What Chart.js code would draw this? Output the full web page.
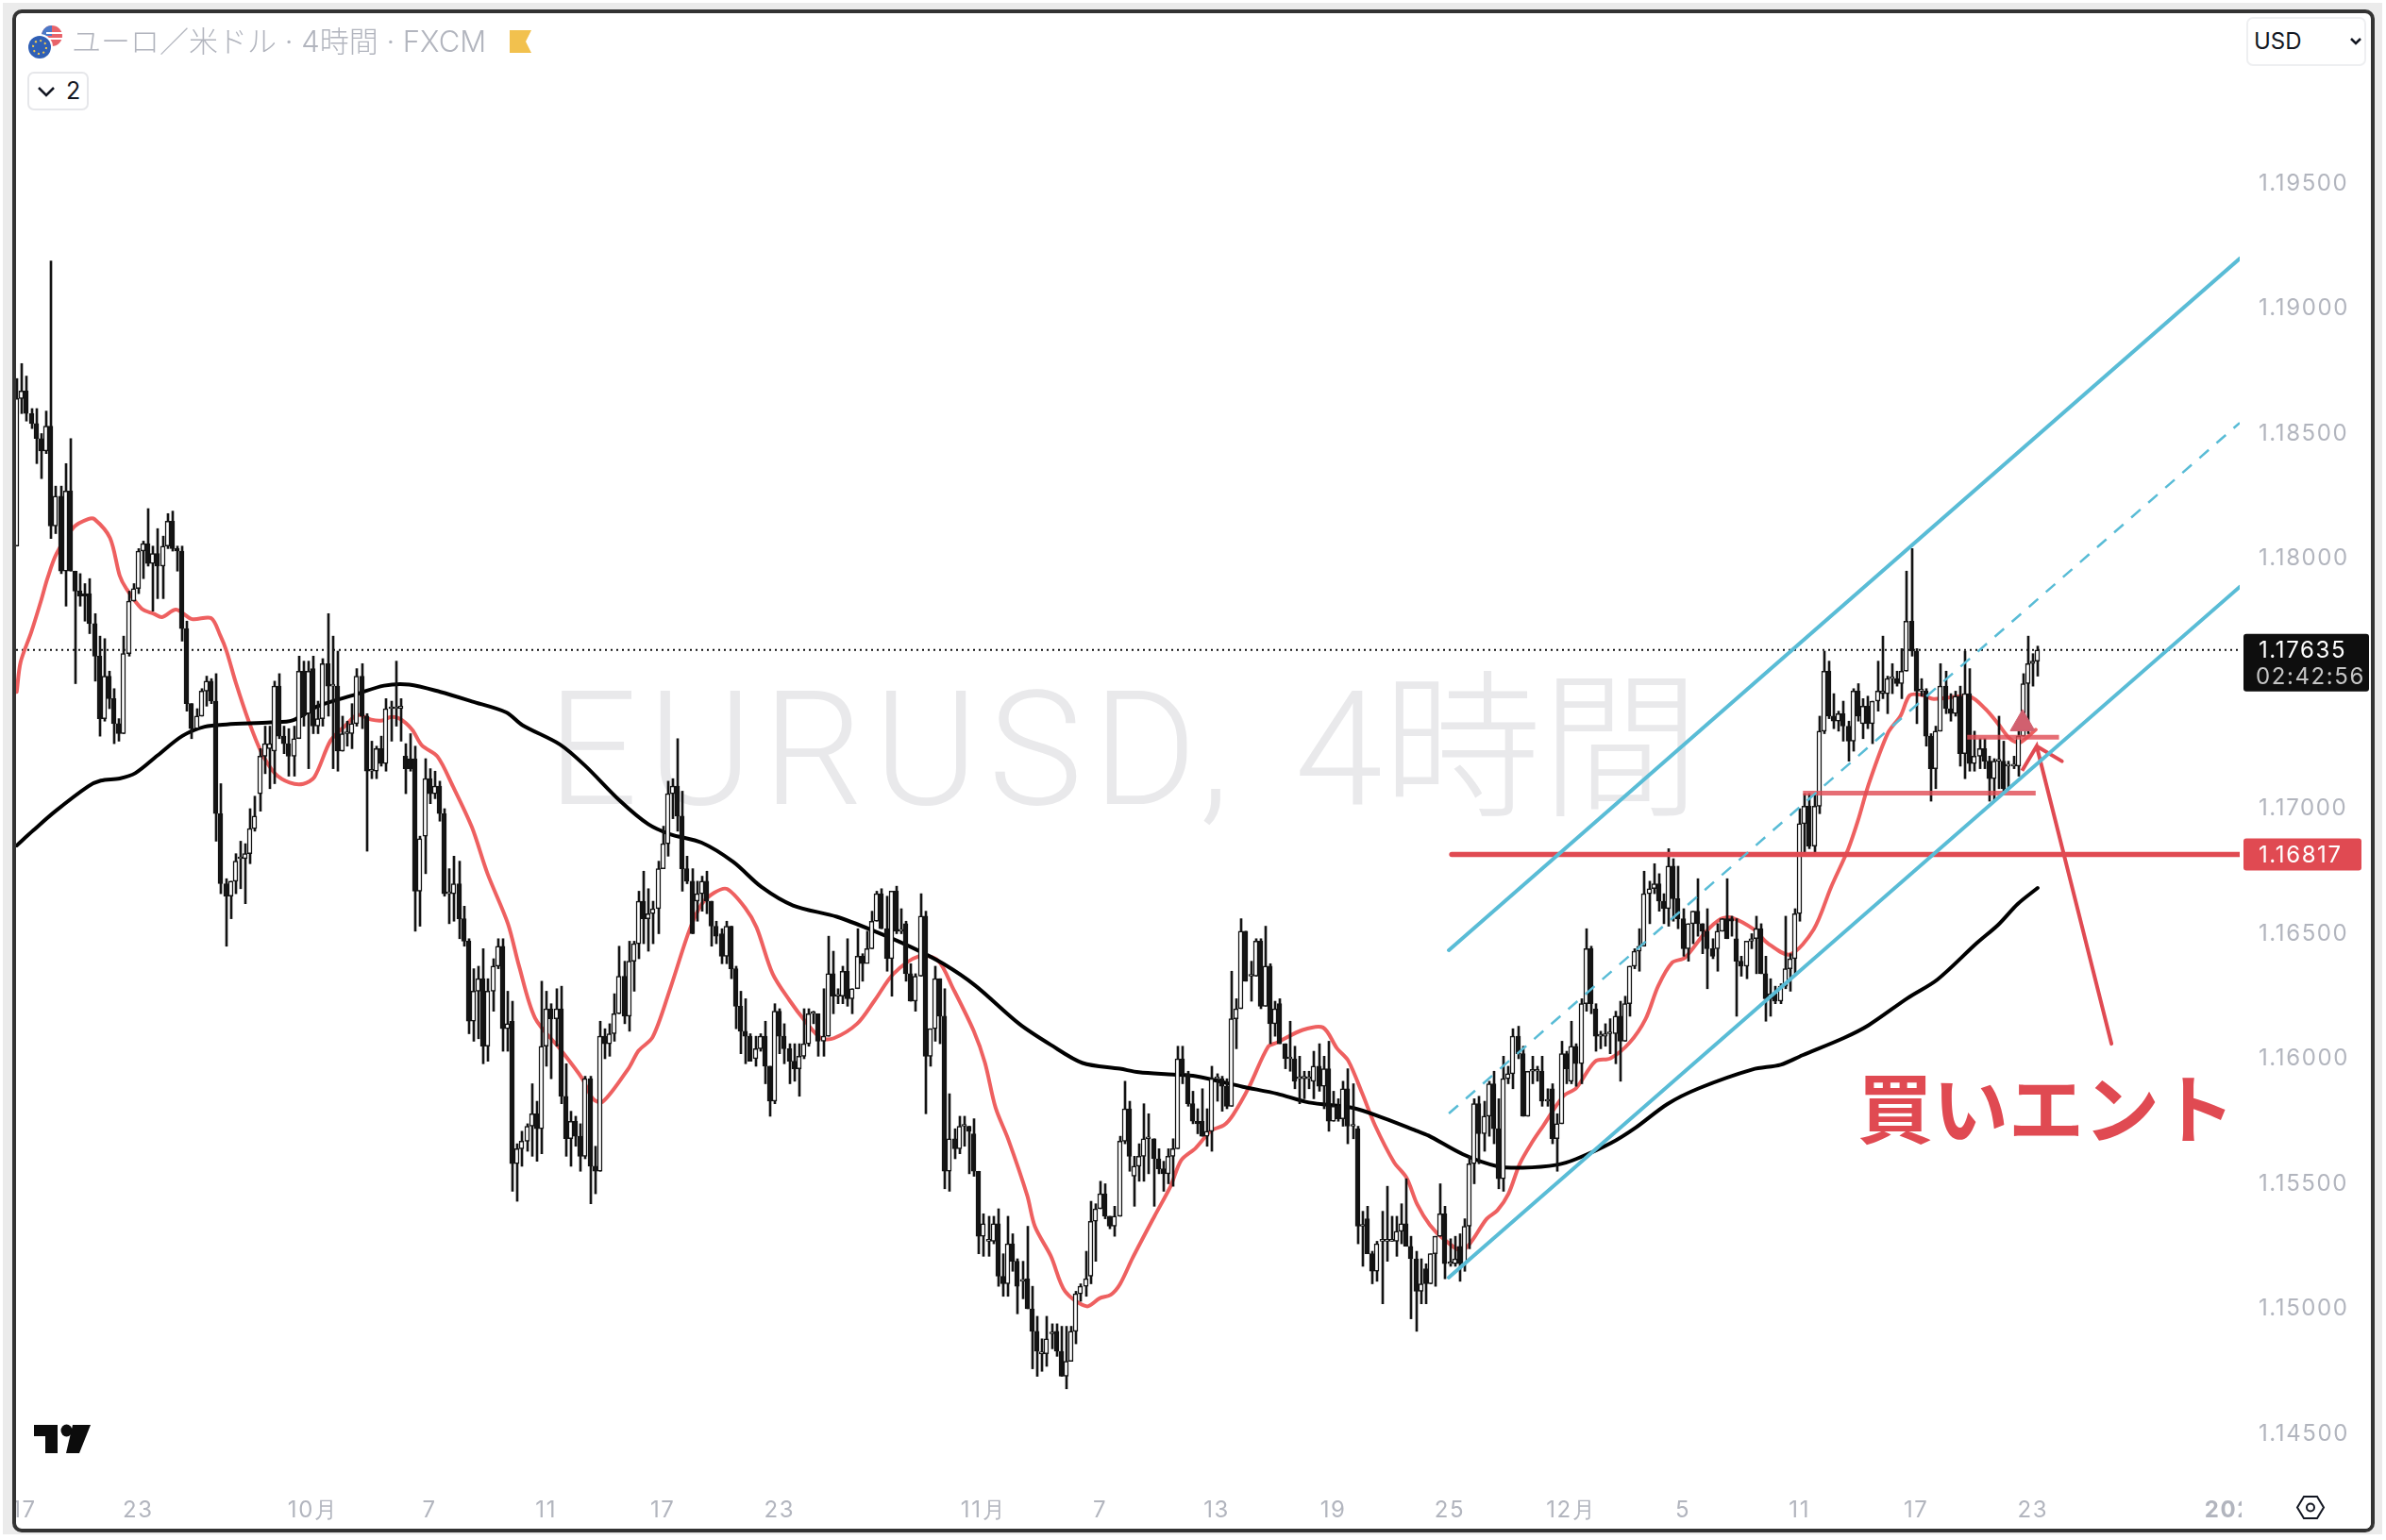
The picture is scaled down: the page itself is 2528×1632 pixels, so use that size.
<!DOCTYPE html>
<html lang="ja">
<head>
<meta charset="utf-8">
<title>EURUSD 4時間</title>
<script src="https://cdn.jsdelivr.net/npm/chart.js@4/dist/chart.umd.min.js"></script>
<style>
  html, body { margin: 0; padding: 0; background: #fff; }
  #page { position: relative; width: 2528px; height: 1632px; overflow: hidden; background: #fff; }
  #backdrop { position: absolute; left: 3px; top: 3px; width: 2521px; height: 1623px; background: #ebebeb; }
  #frame { position: absolute; left: 13px; top: 10px; width: 2503px; height: 1614px; box-sizing: border-box;
           border: 4px solid #333; border-radius: 10px; background: #fff; overflow: hidden; }
  #chart { position: absolute; left: 0; top: 0; }
  #watermark { position: absolute; left: 563px; top: 697px; font: 300 168px Roboto, "Noto Sans CJK JP"; color: #e9e9eb; white-space: nowrap; line-height: 1; }
  #watermark span { letter-spacing: 11px; margin-right: 58px; }
  #title { position: absolute; left: 76px; top: 25px; font: 300 31px Inter, "Noto Sans CJK JP"; color: #b2b5be; white-space: nowrap; line-height: 38px; }
  .btn { position: absolute; box-sizing: border-box; border: 2px solid #e6e7ea; border-radius: 7px; background: #fff; color: #131722; font: 25px Inter, Roboto; }
  #count { left: 29px; top: 76px; width: 65px; height: 41px; line-height: 37px; padding-left: 39px; }
  #usd { left: 2380px; top: 18px; width: 127px; height: 52px; line-height: 48px; padding-left: 6px; border-color: #eeeff1; font-size: 24px; }
  #entry { position: absolute; left: 1968px; top: 1120px; font: 700 80px "Noto Sans CJK JP"; color: #e04a52; white-space: nowrap; line-height: 100px; }
  #icons { position: absolute; left: 0; top: 0; }
</style>
</head>
<body>
<div id="page">
  <div id="backdrop"></div>
  <div id="frame">
    <div id="watermark"><span>EURUSD,</span>4時間</div>
    <canvas id="chart" width="2495" height="1606"></canvas>
  </div>
  <div id="title">ユーロ／米ドル · 4時間 · FXCM</div>
  <div class="btn" id="count">2</div>
  <div class="btn" id="usd">USD</div>
  <div id="entry">買いエント</div>
  <svg id="icons" width="2528" height="1632">
    <circle cx="55" cy="38" r="11" fill="#e8636a"/>
    <path d="M44 38a11 11 0 0 1 11-11v11z" fill="#4a78c8"/>
    <path d="M47 41h19M49 35h17" stroke="#fff" stroke-width="2"/>
    <circle cx="42" cy="50" r="14" fill="#fff"/>
    <circle cx="42" cy="50" r="12" fill="#2f5fb5"/>
    <circle cx="42" cy="50" r="7" fill="none" stroke="#f2c94c" stroke-width="2" stroke-dasharray="2 3.5"/>
    <path d="M540 32h23l-6 12 6 12h-23z" fill="#f2c14e"/>
    <path d="M41 93l8 8 8-8" fill="none" stroke="#131722" stroke-width="2.5"/>
    <path d="M2491 41l5 5 5-5" fill="none" stroke="#131722" stroke-width="2.5"/>
    <path d="M36 1510h25v30h-13v-18h-12z" fill="#0c0c0c"/>
    <ellipse cx="70.5" cy="1516" rx="6" ry="6.5" fill="#0c0c0c"/>
    <path d="M77 1510h19l-12 30h-14z" fill="#0c0c0c"/>
    <path d="M2441 1586h14l7 11.5-7 11.5h-14l-7-11.5z" fill="none" stroke="#131722" stroke-width="2"/>
    <circle cx="2448" cy="1597.5" r="4" fill="none" stroke="#131722" stroke-width="2"/>
  </svg>
</div>
<script>
const opens = [
1.1805,1.1864,1.1867,1.1858,1.1854,1.1848,1.1843,1.1853,1.1813,1.1825,1.1795,1.1827,1.1795,1.1787,1.1786,1.1786,1.1774,1.1761,1.1736,1.1753,
1.1744,1.1734,1.1730,1.1762,1.1783,1.1788,1.1803,1.1806,1.1798,1.1802,1.1797,1.1805,1.1815,1.1804,1.1803,1.1772,1.1742,1.1732,1.1737,1.1747,
1.1751,1.1743,1.1698,1.1670,1.1665,1.1671,1.1680,1.1680,1.1682,1.1692,1.1706,1.1721,1.1724,1.1723,1.1749,1.1729,1.1726,1.1721,1.1728,1.1755,
1.1738,1.1756,1.1733,1.1736,1.1758,1.1749,1.1749,1.1723,1.1730,1.1730,1.1734,1.1753,1.1737,1.1715,1.1715,1.1724,1.1718,1.1740,1.1740,1.1740,
1.1721,1.1720,1.1720,1.1667,1.1689,1.1712,1.1706,1.1709,1.1698,1.1666,1.1666,1.1670,1.1656,1.1647,1.1615,1.1627,1.1632,1.1605,1.1627,1.1637,
1.1645,1.1612,1.1615,1.1558,1.1564,1.1567,1.1573,1.1578,1.1572,1.1605,1.1620,1.1616,1.1620,1.1585,1.1568,1.1575,1.1569,1.1561,1.1592,1.1557,
1.1555,1.1609,1.1606,1.1610,1.1618,1.1633,1.1617,1.1639,1.1646,1.1663,1.1656,1.1658,1.1660,1.1676,1.1686,1.1706,1.1709,1.1697,1.1676,1.1671,
1.1663,1.1666,1.1671,1.1663,1.1653,1.1650,1.1641,1.1653,1.1636,1.1621,1.1611,1.1609,1.1600,1.1604,1.1609,1.1597,1.1583,1.1619,1.1609,1.1604,
1.1599,1.1596,1.1601,1.1606,1.1618,1.1618,1.1607,1.1609,1.1634,1.1625,1.1625,1.1635,1.1624,1.1628,1.1641,1.1638,1.1644,1.1655,1.1666,1.1652,
1.1640,1.1667,1.1651,1.1654,1.1634,1.1623,1.1633,1.1657,1.1601,1.1612,1.1632,1.1617,1.1555,1.1568,1.1564,1.1573,1.1573,1.1570,1.1555,1.1529,
1.1527,1.1527,1.1534,1.1513,1.1510,1.1526,1.1519,1.1511,1.1512,1.1500,1.1491,1.1482,1.1482,1.1490,1.1491,1.1483,1.1473,1.1479,1.1491,1.1506,
1.1509,1.1513,1.1535,1.1540,1.1546,1.1537,1.1533,1.1537,1.1567,1.1580,1.1553,1.1557,1.1561,1.1568,1.1568,1.1560,1.1556,1.1554,1.1561,1.1564,
1.1600,1.1594,1.1582,1.1575,1.1575,1.1569,1.1571,1.1592,1.1592,1.1589,1.1581,1.1616,1.1620,1.1651,1.1633,1.1633,1.1647,1.1621,1.1637,1.1614,
1.1622,1.1606,1.1600,1.1600,1.1592,1.1592,1.1592,1.1591,1.1597,1.1589,1.1596,1.1575,1.1581,1.1576,1.1588,1.1573,1.1572,1.1533,1.1536,1.1522,
1.1515,1.1527,1.1527,1.1527,1.1527,1.1531,1.1534,1.1525,1.1520,1.1507,1.1516,1.1510,1.1522,1.1529,1.1538,1.1518,1.1518,1.1525,1.1518,1.1533,
1.1558,1.1582,1.1570,1.1577,1.1590,1.1572,1.1552,1.1592,1.1594,1.1609,1.1602,1.1577,1.1595,1.1595,1.1595,1.1583,1.1588,1.1568,1.1574,1.1602,
1.1591,1.1605,1.1598,1.1622,1.1644,1.1620,1.1609,1.1609,1.1610,1.1610,1.1617,1.1607,1.1622,1.1637,1.1643,1.1645,1.1666,1.1668,1.1670,1.1663,
1.1660,1.1677,1.1664,1.1656,1.1644,1.1654,1.1659,1.1654,1.1651,1.1644,1.1644,1.1651,1.1656,1.1656,1.1648,1.1639,1.1637,1.1647,1.1648,1.1652,
1.1634,1.1624,1.1626,1.1623,1.1629,1.1636,1.1640,1.1658,1.1694,1.1701,1.1685,1.1701,1.1731,1.1755,1.1737,1.1735,1.1738,1.1733,1.1727,1.1747,
1.1734,1.1741,1.1734,1.1743,1.1746,1.1746,1.1752,1.1752,1.1750,1.1755,1.1775,1.1763,1.1747,1.1747,1.1729,1.1716,1.1731,1.1749,1.1740,1.1738,
1.1745,1.1722,1.1746,1.1718,1.1721,1.1724,1.1719,1.1712,1.1719,1.1719,1.1717,1.1717,1.1717,1.1729,1.1750,1.1758,1.1759];
const highs = [
1.1872,1.1878,1.1873,1.1860,1.1860,1.1850,1.1859,1.1919,1.1829,1.1829,1.1838,1.1848,1.1795,1.1794,1.1790,1.1792,1.1778,1.1769,1.1768,1.1755,
1.1748,1.1736,1.1769,1.1787,1.1790,1.1804,1.1807,1.1820,1.1805,1.1812,1.1809,1.1818,1.1819,1.1805,1.1805,1.1775,1.1742,1.1740,1.1748,1.1753,
1.1752,1.1754,1.1710,1.1672,1.1671,1.1682,1.1687,1.1686,1.1700,1.1705,1.1724,1.1733,1.1733,1.1751,1.1754,1.1733,1.1732,1.1733,1.1761,1.1759,
1.1759,1.1761,1.1743,1.1760,1.1778,1.1769,1.1763,1.1737,1.1735,1.1742,1.1756,1.1758,1.1738,1.1727,1.1725,1.1729,1.1744,1.1743,1.1759,1.1744,
1.1726,1.1730,1.1725,1.1689,1.1720,1.1716,1.1715,1.1711,1.1700,1.1676,1.1681,1.1679,1.1661,1.1648,1.1636,1.1637,1.1644,1.1632,1.1640,1.1648,
1.1648,1.1627,1.1623,1.1566,1.1571,1.1574,1.1590,1.1583,1.1631,1.1627,1.1622,1.1628,1.1629,1.1598,1.1579,1.1577,1.1574,1.1593,1.1593,1.1565,
1.1615,1.1612,1.1614,1.1626,1.1645,1.1639,1.1647,1.1647,1.1667,1.1675,1.1668,1.1663,1.1679,1.1693,1.1711,1.1712,1.1728,1.1707,1.1681,1.1676,
1.1671,1.1673,1.1675,1.1663,1.1655,1.1652,1.1655,1.1653,1.1637,1.1627,1.1624,1.1610,1.1609,1.1610,1.1615,1.1597,1.1622,1.1620,1.1614,1.1606,
1.1606,1.1606,1.1620,1.1620,1.1619,1.1618,1.1628,1.1649,1.1643,1.1628,1.1637,1.1648,1.1628,1.1652,1.1642,1.1651,1.1659,1.1667,1.1668,1.1665,
1.1667,1.1669,1.1660,1.1655,1.1638,1.1634,1.1666,1.1659,1.1612,1.1637,1.1632,1.1628,1.1586,1.1572,1.1577,1.1577,1.1573,1.1576,1.1555,1.1538,
1.1537,1.1537,1.1540,1.1522,1.1537,1.1530,1.1520,1.1519,1.1533,1.1509,1.1497,1.1488,1.1497,1.1494,1.1494,1.1493,1.1493,1.1493,1.1507,1.1510,
1.1523,1.1543,1.1542,1.1551,1.1550,1.1537,1.1541,1.1569,1.1591,1.1583,1.1561,1.1566,1.1582,1.1578,1.1568,1.1564,1.1559,1.1564,1.1568,1.1605,
1.1605,1.1595,1.1587,1.1580,1.1588,1.1580,1.1597,1.1594,1.1593,1.1592,1.1635,1.1624,1.1656,1.1651,1.1639,1.1648,1.1648,1.1653,1.1638,1.1623,
1.1624,1.1606,1.1615,1.1605,1.1601,1.1595,1.1595,1.1603,1.1606,1.1601,1.1607,1.1587,1.1584,1.1591,1.1596,1.1590,1.1573,1.1539,1.1541,1.1523,
1.1527,1.1539,1.1549,1.1537,1.1537,1.1542,1.1552,1.1529,1.1523,1.1520,1.1518,1.1522,1.1529,1.1550,1.1541,1.1528,1.1529,1.1530,1.1536,1.1561,
1.1584,1.1585,1.1583,1.1591,1.1595,1.1584,1.1601,1.1597,1.1612,1.1613,1.1605,1.1595,1.1601,1.1597,1.1601,1.1588,1.1590,1.1578,1.1607,1.1603,
1.1615,1.1606,1.1624,1.1652,1.1645,1.1622,1.1611,1.1614,1.1616,1.1619,1.1623,1.1625,1.1637,1.1644,1.1652,1.1675,1.1671,1.1678,1.1674,1.1666,
1.1684,1.1680,1.1677,1.1660,1.1654,1.1659,1.1672,1.1654,1.1660,1.1648,1.1654,1.1656,1.1672,1.1657,1.1656,1.1641,1.1647,1.1650,1.1657,1.1654,
1.1641,1.1632,1.1629,1.1630,1.1657,1.1642,1.1660,1.1700,1.1706,1.1706,1.1706,1.1737,1.1763,1.1759,1.1746,1.1739,1.1743,1.1735,1.1748,1.1750,
1.1744,1.1745,1.1743,1.1759,1.1769,1.1753,1.1758,1.1755,1.1764,1.1795,1.1804,1.1764,1.1752,1.1748,1.1730,1.1733,1.1758,1.1755,1.1746,1.1747,
1.1749,1.1763,1.1756,1.1731,1.1728,1.1728,1.1721,1.1720,1.1737,1.1727,1.1719,1.1721,1.1733,1.1754,1.1769,1.1762,1.1765];
const lows = [
1.1805,1.1858,1.1855,1.1852,1.1838,1.1832,1.1842,1.1808,1.1810,1.1794,1.1781,1.1795,1.1750,1.1781,1.1775,1.1770,1.1751,1.1729,1.1735,1.1740,
1.1726,1.1727,1.1730,1.1761,1.1783,1.1786,1.1792,1.1797,1.1779,1.1784,1.1784,1.1804,1.1803,1.1795,1.1767,1.1739,1.1728,1.1732,1.1737,1.1741,
1.1742,1.1687,1.1666,1.1645,1.1656,1.1666,1.1668,1.1662,1.1678,1.1691,1.1699,1.1714,1.1708,1.1710,1.1728,1.1722,1.1713,1.1713,1.1728,1.1733,
1.1716,1.1730,1.1730,1.1733,1.1737,1.1716,1.1715,1.1723,1.1725,1.1724,1.1733,1.1732,1.1683,1.1712,1.1712,1.1717,1.1715,1.1727,1.1733,1.1727,
1.1706,1.1715,1.1651,1.1653,1.1674,1.1702,1.1704,1.1695,1.1665,1.1654,1.1655,1.1648,1.1645,1.1610,1.1607,1.1608,1.1598,1.1599,1.1619,1.1636,
1.1603,1.1603,1.1547,1.1543,1.1557,1.1563,1.1561,1.1559,1.1562,1.1597,1.1592,1.1605,1.1582,1.1561,1.1557,1.1565,1.1555,1.1560,1.1542,1.1546,
1.1555,1.1600,1.1601,1.1607,1.1618,1.1614,1.1611,1.1627,1.1640,1.1646,1.1643,1.1646,1.1650,1.1676,1.1681,1.1696,1.1691,1.1667,1.1670,1.1650,
1.1655,1.1659,1.1658,1.1645,1.1646,1.1638,1.1638,1.1632,1.1612,1.1602,1.1598,1.1599,1.1597,1.1603,1.1590,1.1577,1.1582,1.1602,1.1598,1.1590,
1.1591,1.1585,1.1600,1.1605,1.1614,1.1601,1.1601,1.1609,1.1618,1.1622,1.1622,1.1621,1.1618,1.1628,1.1631,1.1639,1.1644,1.1655,1.1652,1.1635,
1.1625,1.1650,1.1650,1.1631,1.1623,1.1619,1.1633,1.1578,1.1597,1.1607,1.1606,1.1548,1.1547,1.1560,1.1562,1.1565,1.1554,1.1553,1.1522,1.1521,
1.1521,1.1526,1.1509,1.1505,1.1505,1.1515,1.1498,1.1504,1.1500,1.1476,1.1473,1.1475,1.1477,1.1484,1.1481,1.1473,1.1468,1.1479,1.1486,1.1503,
1.1505,1.1510,1.1519,1.1540,1.1536,1.1532,1.1529,1.1537,1.1566,1.1555,1.1541,1.1551,1.1551,1.1554,1.1541,1.1554,1.1547,1.1550,1.1549,1.1564,
1.1590,1.1581,1.1574,1.1570,1.1569,1.1565,1.1563,1.1583,1.1579,1.1580,1.1581,1.1604,1.1620,1.1631,1.1623,1.1633,1.1620,1.1621,1.1606,1.1609,
1.1606,1.1596,1.1595,1.1588,1.1582,1.1584,1.1588,1.1584,1.1587,1.1580,1.1571,1.1575,1.1575,1.1573,1.1566,1.1568,1.1526,1.1517,1.1522,1.1510,
1.1511,1.1502,1.1519,1.1527,1.1521,1.1526,1.1525,1.1496,1.1491,1.1502,1.1502,1.1510,1.1509,1.1529,1.1512,1.1517,1.1517,1.1511,1.1515,1.1524,
1.1550,1.1558,1.1563,1.1569,1.1566,1.1548,1.1547,1.1590,1.1588,1.1600,1.1577,1.1577,1.1590,1.1591,1.1581,1.1581,1.1566,1.1555,1.1574,1.1590,
1.1590,1.1589,1.1590,1.1619,1.1618,1.1603,1.1604,1.1605,1.1602,1.1598,1.1591,1.1607,1.1617,1.1636,1.1635,1.1645,1.1654,1.1666,1.1659,1.1654,
1.1653,1.1655,1.1652,1.1641,1.1639,1.1646,1.1649,1.1642,1.1628,1.1640,1.1635,1.1651,1.1648,1.1649,1.1617,1.1633,1.1632,1.1644,1.1634,1.1634,
1.1615,1.1617,1.1622,1.1622,1.1628,1.1627,1.1634,1.1655,1.1682,1.1684,1.1682,1.1698,1.1730,1.1736,1.1732,1.1731,1.1727,1.1719,1.1723,1.1735,
1.1728,1.1732,1.1726,1.1739,1.1744,1.1738,1.1746,1.1749,1.1744,1.1755,1.1761,1.1734,1.1745,1.1725,1.1703,1.1708,1.1731,1.1738,1.1735,1.1737,
1.1717,1.1712,1.1715,1.1715,1.1716,1.1716,1.1703,1.1703,1.1708,1.1707,1.1708,1.1716,1.1713,1.1729,1.1730,1.1749,1.1753];
const closes = [
1.1864,1.1867,1.1858,1.1854,1.1848,1.1843,1.1853,1.1813,1.1825,1.1795,1.1827,1.1795,1.1787,1.1785,1.1785,1.1774,1.1761,1.1736,1.1753,1.1744,
1.1734,1.1730,1.1762,1.1783,1.1788,1.1803,1.1806,1.1798,1.1802,1.1797,1.1805,1.1815,1.1804,1.1803,1.1772,1.1742,1.1732,1.1737,1.1747,1.1751,
1.1743,1.1698,1.1670,1.1665,1.1671,1.1679,1.1680,1.1682,1.1692,1.1697,1.1721,1.1726,1.1726,1.1749,1.1729,1.1726,1.1721,1.1728,1.1755,1.1737,
1.1755,1.1733,1.1736,1.1758,1.1749,1.1749,1.1723,1.1730,1.1730,1.1734,1.1753,1.1737,1.1715,1.1715,1.1724,1.1718,1.1740,1.1740,1.1740,1.1741,
1.1716,1.1716,1.1667,1.1688,1.1712,1.1706,1.1709,1.1698,1.1666,1.1666,1.1670,1.1656,1.1647,1.1615,1.1627,1.1632,1.1605,1.1627,1.1637,1.1645,
1.1612,1.1614,1.1558,1.1564,1.1567,1.1573,1.1578,1.1572,1.1605,1.1620,1.1616,1.1620,1.1585,1.1568,1.1575,1.1569,1.1561,1.1592,1.1557,1.1555,
1.1609,1.1606,1.1610,1.1618,1.1633,1.1617,1.1639,1.1646,1.1663,1.1656,1.1658,1.1660,1.1676,1.1686,1.1706,1.1709,1.1697,1.1676,1.1671,1.1650,
1.1666,1.1671,1.1663,1.1653,1.1649,1.1641,1.1653,1.1636,1.1621,1.1611,1.1609,1.1599,1.1604,1.1609,1.1597,1.1583,1.1619,1.1609,1.1604,1.1599,
1.1596,1.1601,1.1606,1.1618,1.1618,1.1607,1.1609,1.1634,1.1625,1.1625,1.1635,1.1624,1.1628,1.1641,1.1638,1.1644,1.1655,1.1666,1.1652,1.1640,
1.1667,1.1651,1.1651,1.1634,1.1623,1.1633,1.1657,1.1601,1.1612,1.1632,1.1617,1.1555,1.1568,1.1564,1.1573,1.1573,1.1571,1.1555,1.1529,1.1534,
1.1527,1.1534,1.1513,1.1510,1.1526,1.1519,1.1509,1.1511,1.1500,1.1491,1.1483,1.1482,1.1488,1.1490,1.1483,1.1473,1.1479,1.1491,1.1506,1.1509,
1.1512,1.1535,1.1540,1.1546,1.1537,1.1533,1.1537,1.1567,1.1580,1.1561,1.1557,1.1561,1.1568,1.1568,1.1560,1.1556,1.1554,1.1561,1.1564,1.1600,
1.1594,1.1582,1.1575,1.1574,1.1569,1.1571,1.1592,1.1592,1.1589,1.1581,1.1616,1.1620,1.1651,1.1631,1.1633,1.1647,1.1621,1.1637,1.1614,1.1620,
1.1606,1.1600,1.1600,1.1591,1.1592,1.1593,1.1592,1.1597,1.1589,1.1596,1.1575,1.1581,1.1576,1.1588,1.1573,1.1573,1.1533,1.1533,1.1522,1.1515,
1.1526,1.1527,1.1527,1.1527,1.1531,1.1534,1.1525,1.1520,1.1507,1.1510,1.1510,1.1522,1.1529,1.1538,1.1518,1.1518,1.1520,1.1518,1.1533,1.1558,
1.1582,1.1570,1.1577,1.1590,1.1572,1.1552,1.1592,1.1594,1.1609,1.1602,1.1577,1.1595,1.1595,1.1595,1.1583,1.1583,1.1568,1.1574,1.1602,1.1596,
1.1605,1.1598,1.1622,1.1644,1.1622,1.1609,1.1609,1.1610,1.1610,1.1617,1.1607,1.1622,1.1637,1.1643,1.1645,1.1666,1.1668,1.1670,1.1663,1.1660,
1.1677,1.1664,1.1656,1.1644,1.1654,1.1659,1.1654,1.1651,1.1644,1.1641,1.1651,1.1656,1.1648,1.1655,1.1639,1.1637,1.1647,1.1648,1.1652,1.1634,
1.1624,1.1626,1.1623,1.1629,1.1636,1.1640,1.1658,1.1694,1.1701,1.1685,1.1701,1.1731,1.1755,1.1737,1.1735,1.1738,1.1733,1.1727,1.1747,1.1737,
1.1741,1.1734,1.1743,1.1747,1.1747,1.1752,1.1752,1.1750,1.1755,1.1775,1.1763,1.1747,1.1747,1.1729,1.1716,1.1731,1.1749,1.1740,1.1738,1.1745,
1.1722,1.1746,1.1718,1.1721,1.1724,1.1719,1.1712,1.1719,1.1719,1.1708,1.1717,1.1717,1.1729,1.1750,1.1758,1.1759,1.17635];

// moving averages, read as knots along each curve
const redMaX = [0,0.8,3,5,6.3,8.2,11.8,14.7,16,19.2,21.2,22.5,25.7,28.3,29.9,32.8,36.1,40,41.9,43.2,45.1,47.7,50.3,53.2,56.2,59,61.3,64.6,67.8,70.1,73,75.3,76.9,78.8,81.4,83.4,86.6,89.8,93.7,
96.9,101.1,103.4,106.7,111.8,116.4,118.6,120.6,126,128,130.9,134.5,138.4,141,143.6,146.2,150,152.3,155.6,159.1,162.4,165.6,168.2,173,176.6,180.5,185.7,189.6,
192.8,197,199.3,201.5,204.1,208,209.6,212.9,215.8,220.3,222.9,225.2,227.1,229.7,234.2,237.5,239.7,242.7,245.9,248.5,250.4,253.7,257.6,259.5,264.7,268.9,271.8,274.1,277,279.6,283.5,286.1,
288.3,290.9,293.8,297.7,302.6,304.8,307.1,309.4,312,314.2,318.4,321,324.9,328.1,332,335.3,337.9,340.8,343.4,347.6,350.8,353.1,357.6,360.5,365,369.9,373.5,377,
379,381.3,385.2,387.8,389.7,392.3,394.6,402,405.3,407.8,410.4,412.4,415.6];
const redMaY = [1.17467,1.17586,1.17706,1.17831,1.17919,1.1802,1.18127,1.18158,1.18158,1.18083,1.17932,1.17882,1.178,1.17779,1.17766,1.17796,1.17758,1.17762,1.17693,1.1763,1.17504,1.17353,1.17228,1.1714,1.17104,1.17099,1.17127,1.17272,1.17335,1.17375,1.17356,1.17353,1.17366,1.1736,1.17316,1.17253,1.17209,1.17089,1.16926,
1.16741,1.16541,1.16371,1.16163,1.1604,1.15921,1.1584,1.15827,1.15963,1.16032,1.16086,1.16279,1.1651,1.16618,1.16664,1.16679,1.16602,1.16525,1.1634,1.16233,1.16148,1.16082,1.16082,1.1614,1.16233,1.1634,1.1641,1.16394,
1.16279,1.16111,1.15985,1.15804,1.15678,1.15454,1.15329,1.1521,1.1507,1.1501,1.15042,1.15056,1.15098,1.15203,1.1537,1.15489,1.15594,1.15643,1.15713,1.15734,1.15776,1.15888,1.16048,1.16065,1.16115,1.16125,1.16041,1.15992,1.1586,1.15734,1.15587,1.15524,
1.15417,1.15335,1.15278,1.15234,1.1536,1.15394,1.15461,1.1558,1.15668,1.15731,1.15851,1.15882,1.15989,1.16002,1.16064,1.16159,1.16291,1.16385,1.16404,1.16505,1.16559,1.16564,1.16517,1.16461,1.16417,1.16517,1.16687,1.16838,
1.16951,1.17102,1.17303,1.17372,1.17454,1.17454,1.17439,1.17448,1.17398,1.17341,1.17278,1.17265,1.17316];
const blackMaX = [0,3.4,7.9,14.7,17.3,21.2,24.4,29,34.1,38.7,43.2,52.3,56.8,62,69.8,75.6,80.8,87.2,93.7,100.8,104.1,111.8,117,124.1,130,134.5,141,147.5,153.3,159.8,168.8,176.6,184.4,190.8,
197.3,206.4,212.9,219.4,227.1,231,238.1,242.7,252.4,259.5,266,275,281.5,288,290.6,297.7,304.8,310,317.1,321,328.1,333.3,339.8,346.3,357.3,363.1,367.6,376.1,381.2,389.2,395.4,403.4,407.9,411.9,416];
const blackMaY = [1.16853,1.16913,1.16989,1.17089,1.17112,1.17121,1.17142,1.17213,1.17291,1.17328,1.17337,1.17345,1.17353,1.1741,1.17457,1.17492,1.17496,1.17467,1.17429,1.17385,1.17334,1.17257,1.17172,1.17033,1.16938,1.16898,1.16864,1.16787,1.16687,1.16613,1.16568,1.1651,1.16444,1.16379,
1.16293,1.16139,1.16055,1.15983,1.1596,1.15946,1.15937,1.1593,1.15888,1.1586,1.15825,1.15804,1.15762,1.15713,1.15693,1.15618,1.1557,1.15564,1.15576,1.15599,1.15662,1.15725,1.15819,1.15882,1.15957,1.15976,1.16014,1.16083,1.16134,1.16242,1.16317,1.16461,1.16536,1.16619,1.16683];

const lastPrice = 1.17635;
const levelPrice = 1.16817;
const countdown = '02:42:56';

// drawn tools: [startBar, endBar], [startPrice, endPrice]
const channelX = [294.8, 457.6];
const channelTop = [1.16434, 1.1920];
const channelMid = [1.15781, 1.18543];
const channelLow = [1.15125, 1.17887];
const levelX = [295.4, 457.6];
const zoneA = { x: [367.7, 415.6], y: 1.17062 };
const zoneB = { x: [401.5, 420.4], y: 1.17286 };
const arrowX = [431.2, 415.8, 412.8, 415.8, 421];
const arrowY = [1.1606, 1.1725, 1.17152, 1.1725, 1.1719];
const markerX = 412.9;
const markerY = 1.1734;

const priceTicks = [1.145, 1.15, 1.155, 1.16, 1.165, 1.17, 1.175, 1.18, 1.185, 1.19, 1.195];
const dateTickBars = [1.5, 25, 61, 85, 109, 133, 157, 199, 223, 247, 271, 295, 320, 343, 367, 391, 415, 457];
const dateTickLabels = ['17', '23', '10月', '7', '11', '17', '23', '11月', '7', '13', '19', '25', '12月', '5', '11', '17', '23', '2026'];

const xMin = -0.136, xMax = 457.6;
const yMin = 1.143094, yMax = 1.201811;

const zip = (xs, ys) => xs.map((x, i) => ({ x: x, y: ys[i] }));
const seg = (xs, y) => xs.map(x => ({ x: x, y: y }));

const wickData = highs.map((h, i) => ({ x: i, y: [lows[i], h] }));
const bodyData = opens.map((o, i) => ({ x: i, y: [o, closes[i]] }));
const bodyFill = opens.map((o, i) => closes[i] >= o ? '#ffffff' : '#131313');

function tool(data, color, width, extra) {
  return Object.assign({ type: 'line', data: data, borderColor: color, borderWidth: width,
    pointRadius: 0, borderCapStyle: 'round', order: 1 }, extra || {});
}

// keep candles on whole pixels, and set tracking for the axis text
const crispCandles = {
  id: 'crispCandles',
  beforeDraw(chart) { chart.ctx.letterSpacing = '1.6px'; },
  beforeDatasetsDraw(chart) {
    const xs = chart.scales.x;
    chart.getDatasetMeta(3).data.forEach((el, i) => { el.x = Math.floor(xs.getPixelForValue(i)) + 1; });
    chart.getDatasetMeta(4).data.forEach((el, i) => { el.x = Math.floor(xs.getPixelForValue(i)) + 0.5; });
  }
};

// price tags on the axis and the cut off year label
const axisTags = {
  id: 'axisTags',
  afterDraw(chart) {
    const c = chart.ctx, a = chart.chartArea, y = chart.scales.y;
    c.save();
    c.fillStyle = '#fff';
    c.fillRect(a.right + 2, a.bottom, 140, 50);
    c.textBaseline = 'middle';
    c.textAlign = 'left';
    c.font = '24px Inter, Roboto';

    const yLast = y.getPixelForValue(lastPrice);
    c.fillStyle = '#0e0e0e';
    c.beginPath();
    c.roundRect(a.right + 4, yLast - 17, 133, 61, 3);
    c.fill();
    c.fillStyle = '#fff';
    c.fillText(lastPrice.toFixed(5), a.right + 20, yLast + 1);
    c.fillStyle = '#c4c4c4';
    c.fillText(countdown, a.right + 17, yLast + 29);

    const yLevel = y.getPixelForValue(levelPrice);
    c.fillStyle = '#e04a52';
    c.beginPath();
    c.roundRect(a.right + 4, yLevel - 17, 125, 34, 3);
    c.fill();
    c.fillStyle = '#fff';
    c.fillText(levelPrice.toFixed(5), a.right + 20, yLevel + 1);
    c.restore();
  }
};

Chart.defaults.font.family = 'Inter, Roboto';

const canvas = document.getElementById('chart');
const chart = new Chart(canvas, {
  type: 'bar',
  plugins: [crispCandles, axisTags],
  data: {
    datasets: [
      tool(seg([xMin, xMax], lastPrice), '#111', 2, { borderDash: [2, 4], borderCapStyle: 'butt', order: 8 }),
      tool(zip(redMaX, redMaY), '#ee6060', 4, { tension: 0.3, order: 7 }),
      tool(zip(blackMaX, blackMaY), '#000', 4, { tension: 0.3, order: 6 }),
      { type: 'bar', data: wickData, backgroundColor: '#131313', barThickness: 2, grouped: false, order: 5 },
      { type: 'bar', data: bodyData, backgroundColor: bodyFill, borderColor: '#131313', borderWidth: 1.5,
        borderSkipped: false, barThickness: 5, minBarLength: 2, grouped: false, order: 4 },
      tool(zip(channelX, channelTop), '#59bcd6', 4),
      tool(zip(channelX, channelMid), '#59bcd6', 2.5, { borderDash: [13, 11], borderCapStyle: 'butt' }),
      tool(zip(channelX, channelLow), '#59bcd6', 4),
      tool(seg(levelX, levelPrice), '#e04a52', 5.5),
      tool(seg(zoneA.x, zoneA.y), 'rgba(224,74,82,0.8)', 5, { borderCapStyle: 'butt' }),
      tool(seg(zoneB.x, zoneB.y), 'rgba(224,74,82,0.8)', 5, { borderCapStyle: 'butt' }),
      tool(zip(arrowX, arrowY), '#e04a52', 4, { borderJoinStyle: 'miter' }),
      { type: 'line', data: [{ x: markerX, y: markerY }], showLine: false, pointStyle: 'triangle', pointRadius: 15,
        backgroundColor: '#d1606f', borderColor: '#d1606f', order: 0 }
    ]
  },
  options: {
    responsive: false,
    maintainAspectRatio: false,
    animation: false,
    layout: { padding: 0 },
    plugins: { legend: { display: false }, tooltip: { enabled: false } },
    scales: {
      x: {
        type: 'linear', min: xMin, max: xMax, offset: false,
        grid: { display: false, drawTicks: false }, border: { display: false },
        afterBuildTicks(s) { s.ticks = dateTickBars.map(v => ({ value: v })); },
        afterFit(s) { s.height = 50; s.paddingLeft = 0; s.paddingRight = 0; },
        ticks: {
          autoSkip: false, maxRotation: 0, padding: 16, color: '#b2b5be',
          font: ctx => ctx.tick && ctx.tick.value === 457 ? { size: 24, weight: 'bold' } : { size: 24 },
          callback: v => dateTickLabels[dateTickBars.indexOf(v)]
        }
      },
      y: {
        position: 'right', min: yMin, max: yMax,
        grid: { display: false, drawTicks: false }, border: { display: false },
        afterBuildTicks(s) { s.ticks = priceTicks.map(v => ({ value: v })); },
        afterFit(s) { s.width = 139; s.paddingTop = 0; s.paddingBottom = 0; },
        ticks: { padding: 20, color: '#b2b5be', font: { size: 24 }, callback: v => v.toFixed(5) }
      }
    }
  }
});

// the axes keep some room for their outer labels: grow the canvas until the plot
// has the wanted size, then push that room out of the frame
const plotWidth = 2356, plotHeight = 1556;
for (let pass = 0; pass < 3; pass++) {
  const a = chart.chartArea;
  chart.resize(chart.width + plotWidth - (a.right - a.left), chart.height + plotHeight - (a.bottom - a.top));
}
canvas.style.left = -chart.chartArea.left + 'px';
canvas.style.top = -chart.chartArea.top + 'px';
</script>
</body>
</html>
